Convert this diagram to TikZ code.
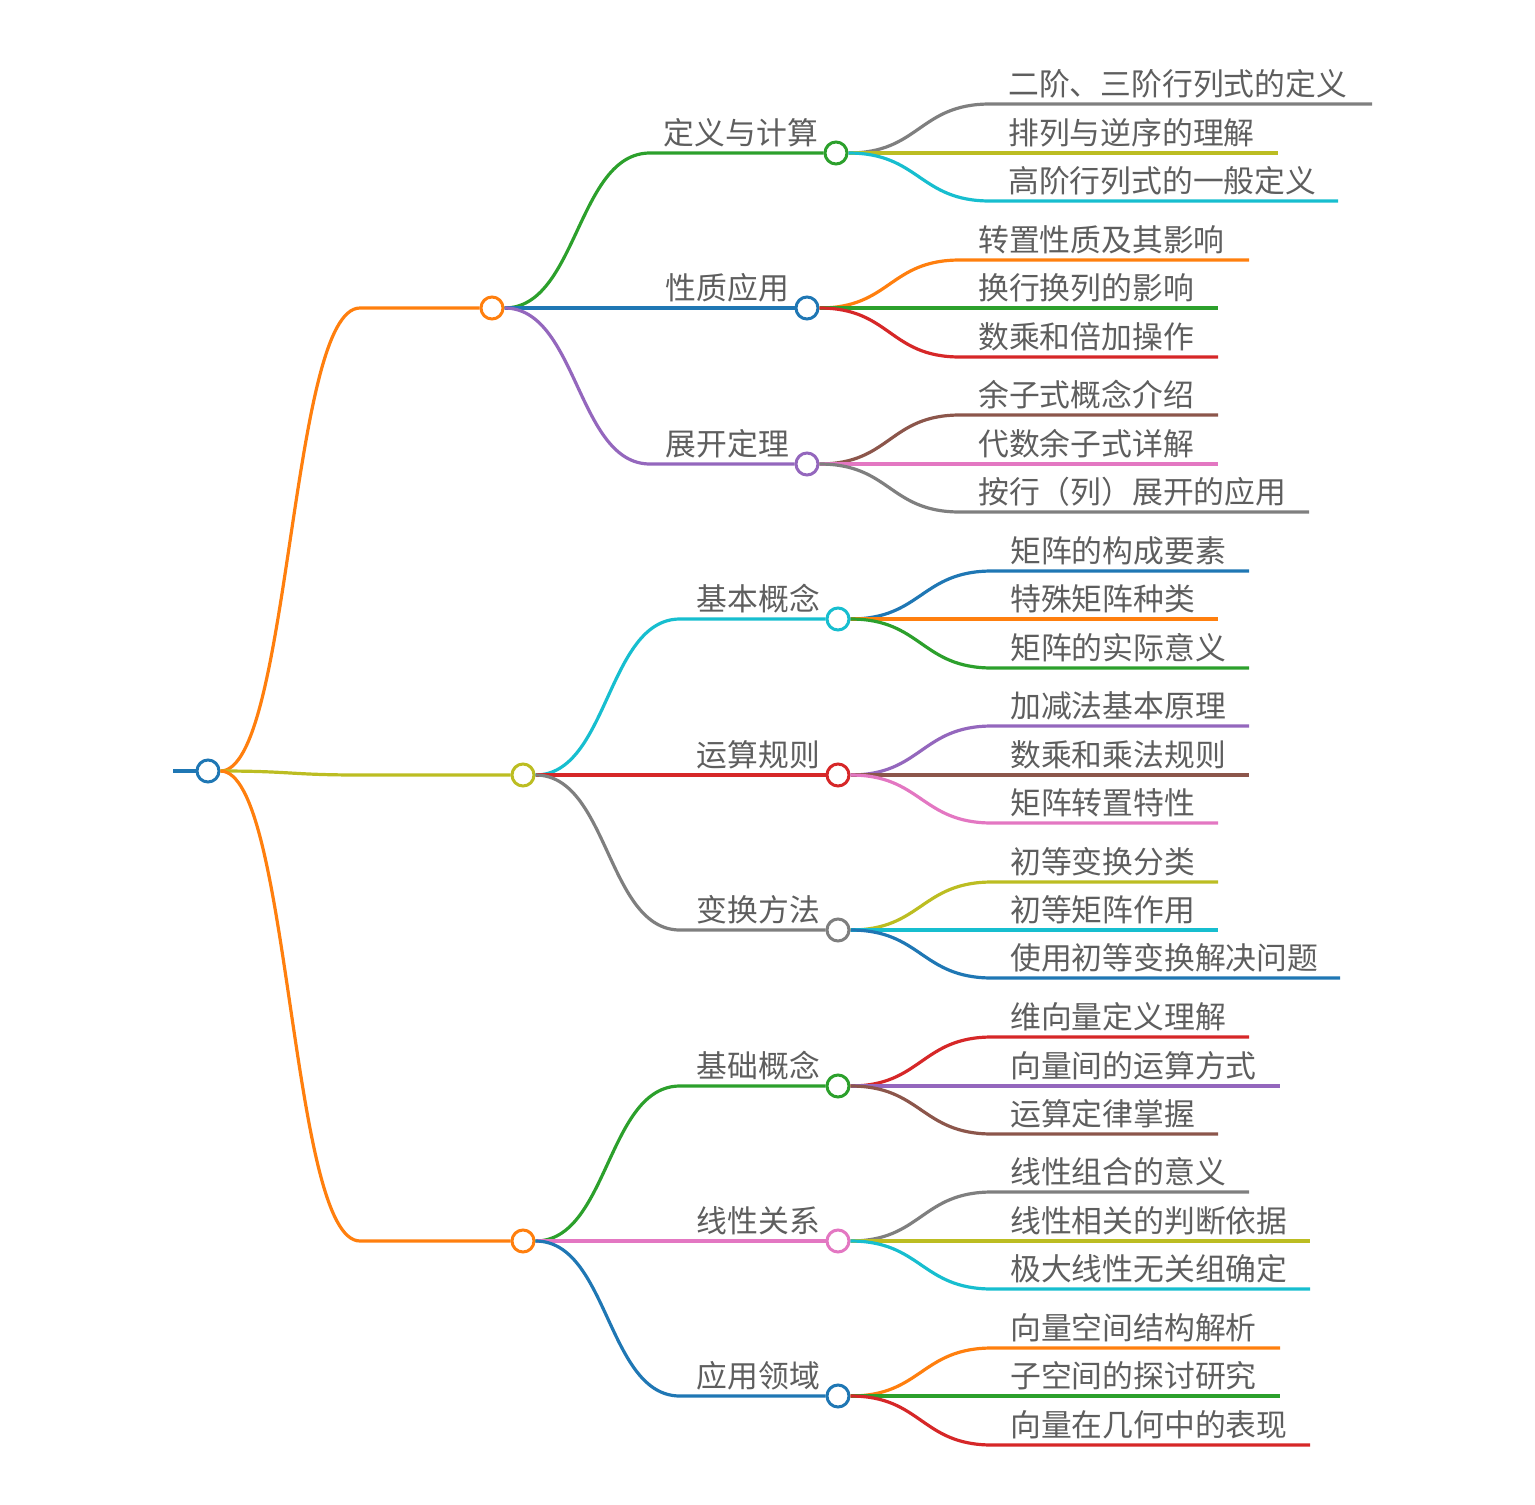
\documentclass[tikz,border=0pt]{standalone}
\usepackage{fontspec}
\setmainfont{Noto Sans CJK SC}
\definecolor{cblue}{HTML}{1F77B4}
\definecolor{corange}{HTML}{FF7F0E}
\definecolor{cgreen}{HTML}{2CA02C}
\definecolor{cred}{HTML}{D62728}
\definecolor{cpurple}{HTML}{9467BD}
\definecolor{cbrown}{HTML}{8C564B}
\definecolor{cpink}{HTML}{E377C2}
\definecolor{cgray}{HTML}{7F7F7F}
\definecolor{colive}{HTML}{BCBD22}
\definecolor{ccyan}{HTML}{17BECF}
\definecolor{txt}{HTML}{5E5E5E}
\tikzset{
  conn/.style={line width=3.2pt},
  dot/.style={circle,draw=#1,fill=white,line width=3pt,minimum size=22pt,inner sep=0pt},
  lbl/.style={text=txt,inner sep=0pt,font=\fontsize{30.8}{36}\selectfont,anchor=base east},
  leaftxt/.style={text=txt,inner sep=0pt,font=\fontsize{30.8}{36}\selectfont,anchor=base west},
}
% parent, name, y, colour, start x, end x, text, text x
\newcommand\leafnode[8]{%
  \coordinate (#2s) at (#5,#3);
  \coordinate (#2e) at (#6,#3);
  \draw[conn,#4] (#1.east) .. controls +(71,0) and +(-71,0) .. (#2s) -- (#2e);
  \node[leaftxt] (#2t) at (#8,#3-9) {#7};
}
% parent, name, x, y, colour, horizontal start x, text
\newcommand\midnode[7]{%
  \node[dot=#5] (#2) at (#3,#4) {};
  \coordinate (#2k) at (#6,#4);
  \draw[conn,#5] (#1.east) .. controls +(73,0) and +(-73,0) .. (#2k) -- (#2.west);
  \node[lbl] (#2t) at (#3-18,#4-9) {#7};
}
\begin{document}
\begin{tikzpicture}[x=1pt,y=-1pt]
\useasboundingbox (0,0) rectangle (1535,1505);
% root
\node[dot=cblue] (root) at (208,771) {};
\coordinate (stub) at (173,771);
\draw[conn,cblue] (stub) -- (root.west);
% level 1
\node[dot=corange] (A) at (492,308) {};
\node[dot=colive] (B) at (523,775) {};
\node[dot=corange] (C) at (523,1241) {};
\coordinate (Ak) at (360,308);
\coordinate (Bk) at (360,775);
\coordinate (Ck) at (360,1241);
\draw[conn,corange] (root.east) .. controls +(70,0) and +(-70,0) .. (Ak) -- (A.west);
\draw[conn,colive] (root.east) .. controls +(70,0) and +(-70,0) .. (Bk) -- (B.west);
\draw[conn,corange] (root.east) .. controls +(70,0) and +(-70,0) .. (Ck) -- (C.west);
% level 2
\midnode{A}{A1}{836}{153}{cgreen}{650}{定义与计算}
\midnode{A}{A2}{807}{308}{cblue}{650}{性质应用}
\midnode{A}{A3}{807}{464}{cpurple}{650}{展开定理}
\midnode{B}{B1}{838}{619}{ccyan}{680}{基本概念}
\midnode{B}{B2}{838}{775}{cred}{680}{运算规则}
\midnode{B}{B3}{838}{930}{cgray}{680}{变换方法}
\midnode{C}{C1}{838}{1086}{cgreen}{680}{基础概念}
\midnode{C}{C2}{838}{1241}{cpink}{680}{线性关系}
\midnode{C}{C3}{838}{1396}{cblue}{680}{应用领域}
% leaves
\leafnode{A1}{a11}{104}{cgray}{990}{1372}{二阶、三阶行列式的定义}{1008}
\leafnode{A1}{a12}{153}{colive}{990}{1278}{排列与逆序的理解}{1008}
\leafnode{A1}{a13}{201}{ccyan}{990}{1338}{高阶行列式的一般定义}{1008}
\leafnode{A2}{a21}{260}{corange}{960}{1249}{转置性质及其影响}{978}
\leafnode{A2}{a22}{308}{cgreen}{960}{1218}{换行换列的影响}{978}
\leafnode{A2}{a23}{357}{cred}{960}{1218}{数乘和倍加操作}{978}
\leafnode{A3}{a31}{415}{cbrown}{960}{1218}{余子式概念介绍}{978}
\leafnode{A3}{a32}{464}{cpink}{960}{1218}{代数余子式详解}{978}
\leafnode{A3}{a33}{512}{cgray}{960}{1309}{按行（列）展开的应用}{978}
\leafnode{B1}{b11}{571}{cblue}{992}{1249}{矩阵的构成要素}{1010}
\leafnode{B1}{b12}{619}{corange}{992}{1218}{特殊矩阵种类}{1010}
\leafnode{B1}{b13}{668}{cgreen}{992}{1249}{矩阵的实际意义}{1010}
\leafnode{B2}{b21}{726}{cpurple}{992}{1249}{加减法基本原理}{1010}
\leafnode{B2}{b22}{775}{cbrown}{992}{1249}{数乘和乘法规则}{1010}
\leafnode{B2}{b23}{823}{cpink}{992}{1218}{矩阵转置特性}{1010}
\leafnode{B3}{b31}{882}{colive}{992}{1218}{初等变换分类}{1010}
\leafnode{B3}{b32}{930}{ccyan}{992}{1218}{初等矩阵作用}{1010}
\leafnode{B3}{b33}{978}{cblue}{992}{1340}{使用初等变换解决问题}{1010}
\leafnode{C1}{c11}{1037}{cred}{992}{1249}{维向量定义理解}{1010}
\leafnode{C1}{c12}{1086}{cpurple}{992}{1280}{向量间的运算方式}{1010}
\leafnode{C1}{c13}{1134}{cbrown}{992}{1218}{运算定律掌握}{1010}
\leafnode{C2}{c21}{1192}{cgray}{992}{1249}{线性组合的意义}{1010}
\leafnode{C2}{c22}{1241}{colive}{992}{1310}{线性相关的判断依据}{1010}
\leafnode{C2}{c23}{1289}{ccyan}{992}{1310}{极大线性无关组确定}{1010}
\leafnode{C3}{c31}{1348}{corange}{992}{1280}{向量空间结构解析}{1010}
\leafnode{C3}{c32}{1396}{cgreen}{992}{1280}{子空间的探讨研究}{1010}
\leafnode{C3}{c33}{1445}{cred}{992}{1310}{向量在几何中的表现}{1010}
\end{tikzpicture}
\end{document}
